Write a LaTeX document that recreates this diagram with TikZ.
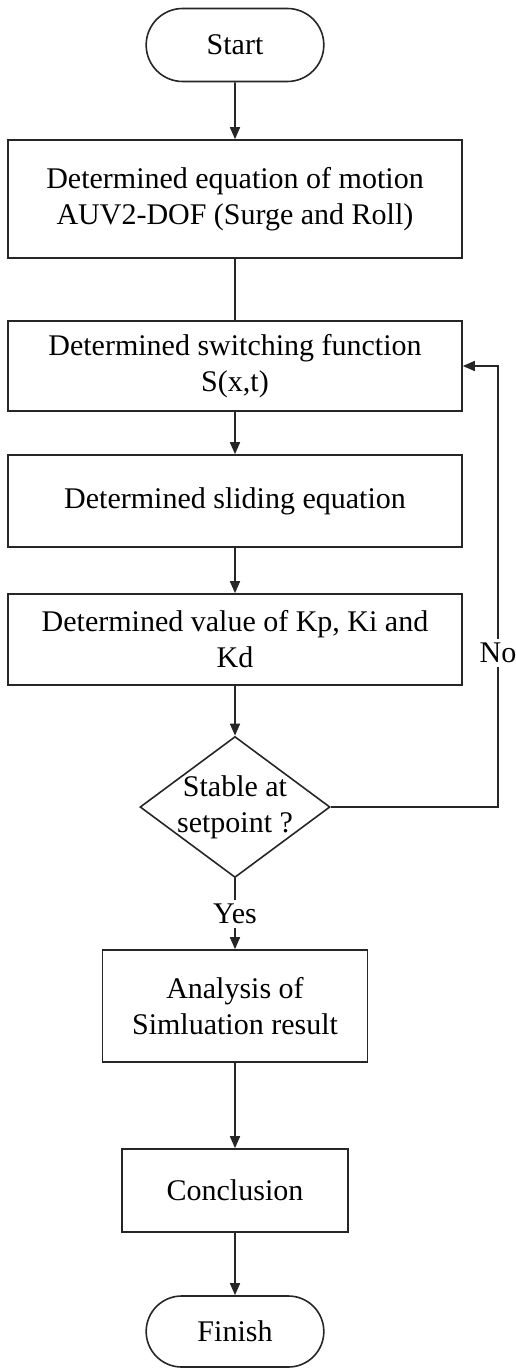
\documentclass[tikz,border=0pt]{standalone}
\usepackage{fontspec}
\setmainfont{Liberation Serif}
\usetikzlibrary{arrows.meta, shapes.geometric, shapes.misc}

\begin{document}
\begin{tikzpicture}[thick, draw=black!85, >={Triangle[length=6pt, width=5pt]}, font=\fontsize{15}{18}\selectfont, term node/.style={rounded rectangle, draw, minimum width=95.5pt, minimum height=36.5pt}, box node/.style={rectangle, draw, align=center, minimum width=227pt, inner sep=0pt}, decision node/.style={diamond, draw, minimum width=95pt, minimum height=70.5pt, inner sep=0pt}, label node/.style={fill=white, inner sep=2pt}]
\useasboundingbox (-117.5pt,22.5pt) rectangle (140pt,-662pt);
\node[term node](start){Start};
\node[box node, minimum height=59pt, node distance=77pt](motion)[below of = start]{Determined equation of motion\\AUV2-DOF (Surge and Roll)};
\node[box node, minimum height=45pt, node distance=83.5pt](switch)[below of = motion]{Determined switching function\\S(x,t)};
\node[box node, minimum height=46pt, node distance=67.5pt](sliding)[below of = switch]{Determined sliding equation};
\node[box node, minimum height=45.5pt, node distance=69.25pt](gain)[below of = sliding]{Determined value of Kp, Ki and\\Kd};
\node[decision node, node distance=83.75pt](stable)[below of = gain]{};
\node[align=center](stabletext) at (stable){Stable at\\setpoint ?};
\node[box node, minimum width=132.5pt, minimum height=56pt, node distance=99.5pt](analysis)[below of = stable]{Analysis of\\Simluation result};
\node[box node, minimum width=113pt, minimum height=41.5pt, node distance=92.25pt](conclusion)[below of = analysis]{Conclusion};
\node[term node, minimum height=35.5pt, node distance=70.5pt](finish)[below of = conclusion]{Finish};
\coordinate[right of = switch, node distance=131.5pt](back);
% main flow
\draw[->] (start) -- (motion);
\draw (motion) -- (switch);
\foreach \s/\t in {switch/sliding, sliding/gain, gain/stable, analysis/conclusion, conclusion/finish}{
    \draw[->] (\s) -- (\t);}
\draw[->] (stable) -- node[label node]{Yes} (analysis);
% loop back
\draw[->] (stable.east) -| node[label node, pos=0.675]{No} (back) -- (switch.east);
\end{tikzpicture}
\end{document}
